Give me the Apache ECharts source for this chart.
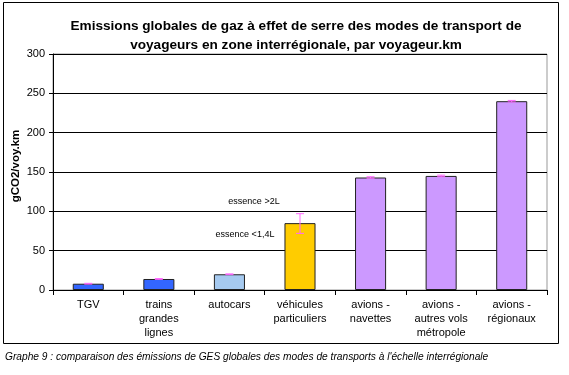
<!DOCTYPE html>
<html>
<head>
<meta charset="utf-8">
<script src="https://cdn.jsdelivr.net/npm/echarts@6/dist/echarts.min.js"></script>
<style>
  html, body { margin:0; padding:0; background:#fff; }
  #main { width:569px; height:375px; }
</style>
</head>
<body>
<div id="main"></div>
<script>
"use strict";
// categories and values
var categories = ['TGV', 'trains\ngrandes\nlignes', 'autocars', 'véhicules\nparticuliers',
  'avions -\nnavettes', 'avions -\nautres vols\nmétropole', 'avions -\nrégionaux'];
var values  = [8, 14, 20, 85, 143, 145, 240];
var errLow  = [7.5, 13.5, 19.5, 72, 142, 144, 239];
var errHigh = [8.5, 14.5, 20.5, 97, 144, 146, 241];
var barColors = ['#3366FF', '#3366FF', '#A6CAF0', '#FFCC00', '#CC99FF', '#CC99FF', '#CC99FF'];
var yTicks = [0, 50, 100, 150, 200, 250, 300];
// annotations over the "véhicules particuliers" bar
var annoText = ['essence >2L', 'essence <1,4L'];
var annoY = [112, 70];

var font = 'Liberation Sans, Arial, sans-serif';
var chart = echarts.init(document.getElementById('main'));

var option = {
  animation: false,
  textStyle: { fontFamily: font },
  title: {
    text: 'Emissions globales de gaz à effet de serre des modes de transport de\nvoyageurs en zone interrégionale, par voyageur.km',
    left: 291, top: 12, textAlign: 'center',
    textStyle: { fontSize: 13.6, fontWeight: 'bold', color: '#000', lineHeight: 19, fontFamily: font }
  },
  grid: { left: 53, right: 22, top: 54, bottom: 85, outerBoundsMode: 'none',
    show: true, borderColor: '#999', borderWidth: 1 },
  xAxis: {
    type: 'category', data: categories,
    axisLine: { lineStyle: { color: '#000' } },
    axisTick: { show: true, length: 5, lineStyle: { color: '#000' } },
    axisLabel: { color: '#000', fontSize: 11, lineHeight: 14, margin: 8, fontFamily: font, interval: 0 }
  },
  yAxis: {
    type: 'value', min: yTicks[0], max: yTicks[yTicks.length - 1], interval: 50,
    axisLine: { show: true, lineStyle: { color: '#000' } },
    axisTick: { show: true, length: 4, lineStyle: { color: '#000' } },
    axisLabel: { color: '#000', fontSize: 11, margin: 8, fontFamily: font },
    splitLine: { lineStyle: { color: '#000', width: 1 } }
  },
  series: [
    {
      type: 'bar', barWidth: '44%',
      data: values.map(function (v, i) {
        return { value: v, itemStyle: { color: barColors[i], borderColor: '#222', borderWidth: 1 } };
      })
    },
    {
      type: 'custom', z: 5,
      data: errLow.map(function (lo, i) { return [i, lo, errHigh[i]]; }),
      renderItem: function (params, api) {
        var lo = api.coord([api.value(0), api.value(1)]);
        var hi = api.coord([api.value(0), api.value(2)]);
        var w = 4;
        var st = { stroke: '#FF66FF', lineWidth: 1 };
        return {
          type: 'group',
          children: [
            { type: 'line', shape: { x1: hi[0], y1: hi[1], x2: lo[0], y2: lo[1] }, style: st },
            { type: 'line', shape: { x1: hi[0] - w, y1: hi[1], x2: hi[0] + w, y2: hi[1] }, style: st },
            { type: 'line', shape: { x1: lo[0] - w, y1: lo[1], x2: lo[0] + w, y2: lo[1] }, style: st }
          ]
        };
      }
    },
    {
      type: 'custom', z: 6,
      data: annoText.map(function (t, i) { return [3, annoY[i], t]; }),
      renderItem: function (params, api) {
        var p = api.coord([api.value(0), api.value(1)]);
        return {
          type: 'text',
          x: p[0] - 46 - params.dataIndex * 9, y: p[1],
          style: { text: annoText[params.dataIndex], fontSize: 9, fill: '#000',
            fontFamily: font, align: 'center', verticalAlign: 'middle' }
        };
      }
    }
  ],
  graphic: [
    { type: 'rect', shape: { x: 3.5, y: 2.5, width: 555, height: 341 }, style: { fill: null, stroke: '#000', lineWidth: 1 }, silent: true },
    { type: 'text', x: 16, y: 166, rotation: Math.PI / 2,
      style: { text: 'gCO2/voy.km', fontSize: 11.5, fontWeight: 'bold', fill: '#000', fontFamily: font,
        align: 'center', verticalAlign: 'middle' } },
    { type: 'text', left: 5, top: 352, style: { text: "Graphe 9 : comparaison des émissions de GES globales des modes de transports à l'échelle interrégionale", fontSize: 10.2, fontStyle: 'italic', fill: '#000', fontFamily: font } }
  ]
};
chart.setOption(option);
</script>
</body>
</html>
